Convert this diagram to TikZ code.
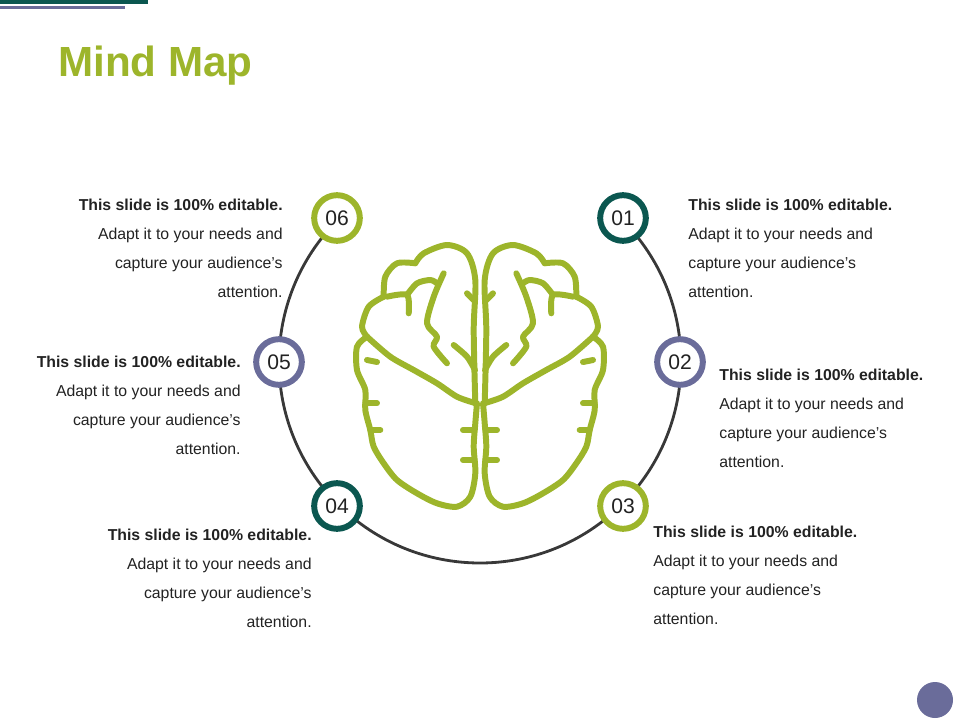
\documentclass[tikz,border=0pt]{standalone}
\usepackage{fontspec}
\setmainfont{Liberation Sans}
\usetikzlibrary{positioning}
\definecolor{mmteal}{RGB}{11,87,80}
\definecolor{mmpurple}{RGB}{106,108,154}
\definecolor{mmgreen}{RGB}{157,181,43}
\definecolor{mmtext}{RGB}{34,34,34}
\newcommand\blurb{\textbf{This slide is 100\% editable.}\\Adapt it to your needs and\\capture your audience's\\attention.}
\begin{document}
\begin{tikzpicture}[x=0.02cm,y=-0.02cm]
    \tikzset{
      ring/.style={circle, draw=#1, line width=3.4pt, fill=white,
        minimum size=26pt, inner sep=0pt, font=\fontsize{12}{12}\selectfont, text=mmtext},
      txtl/.style={anchor=north east, align=right, text=mmtext,
        font=\fontsize{9}{16.4}\selectfont, inner sep=0pt},
      txtr/.style={anchor=north west, align=left, text=mmtext,
        font=\fontsize{9}{16.4}\selectfont, inner sep=0pt},
      brainln/.style={draw=mmgreen, line width=3.4pt, line cap=round, line join=round}
    }
    \useasboundingbox (0,0) rectangle (960,720);

    % header bars and title
    \fill[mmteal] (0,0) rectangle (148,4);
    \fill[mmpurple] (0,6) rectangle (125,9);
    \node[anchor=base west, inner sep=0pt, text=mmgreen,
          font=\fontsize{24}{24}\selectfont\bfseries] (title) at (58,76) {Mind Map};

    % ring arc
    \coordinate (ctr) at (480,362);
    \draw[mmtext!90, line width=1.6pt] (ctr) ++(45:201 and -201) arc[start angle=45, end angle=-225, x radius=201, y radius=-201];

    % brain
    \foreach \s in {1,-1}{
    \begin{scope}[shift={(480,0)}, xscale=\s]
    \begin{scope}[shift={(-3,0)}]
      \draw[brainln] plot[smooth] coordinates {(-1.7,403.3) (-3.3,330) (-1.7,280) (-10,253.3) (-30,245) (-53.3,253.3) (-61.7,263.3)};
      \draw[brainln] plot[smooth] coordinates {(-61.7,263.3) (-80,263.3) (-91.7,276.7) (-93.3,296.7)};
      \draw[brainln] plot[smooth] coordinates {(-93.3,296.7) (-108.3,306.7) (-115,326.7) (-110,336.7)};
      \draw[brainln] plot[smooth] coordinates {(-110,336.7) (-120,346.7) (-120,370) (-111.7,390) (-111.7,410) (-106.7,430) (-103.3,446.7) (-93.3,463.3) (-80,480) (-60,493.3) (-40,503.3) (-20,506.7) (-6.7,496.7) (-1.7,473.3) (-3.3,446.7) (-1.7,423.3) (0,403.3)};
      \draw[brainln] plot[smooth] coordinates {(-110,336.7) (-86.7,356.7) (-63.3,370) (-40,383.3) (-20,396.7) (-2,403)};
      \draw[brainln] plot[smooth] coordinates {(-90,296.7) (-70,295) (-68.3,313.3)};
      \draw[brainln] plot[smooth] coordinates {(-70,295) (-60,283.3) (-46.7,280) (-40,283.3)};
      \draw[brainln] plot[smooth] coordinates {(-33.3,273.3) (-43.3,296.7) (-50,323.3) (-40,336.7) (-43.3,346.7) (-30,363.3)};
      \draw[brainln] plot[smooth] coordinates {(-23.3,345) (-10,356.7) (-2,370)};
      \draw[brainln] (-10,293.3) -- (-3.3,300);
      \draw[brainln] (-14,430) -- (-2.5,430);
      \draw[brainln] (-14,460) -- (-2.5,460);
      \draw[brainln] (-111.7,403.3) -- (-100,403.3);
      \draw[brainln] (-106.7,430) -- (-96.7,430);
      \draw[brainln] (-110,360) -- (-100,362);
    \end{scope}
    \end{scope}}

    % numbered rings
    \node[ring=mmteal]   (n01) at (623,218) {01};
    \node[ring=mmpurple] (n02) at (680,362) {02};
    \node[ring=mmgreen]  (n03) at (623,506) {03};
    \node[ring=mmteal]   (n04) at (337,506) {04};
    \node[ring=mmpurple] (n05) at (279,362) {05};
    \node[ring=mmgreen]  (n06) at (337,218) {06};

    % texts
    \node[txtr] (t01) at (688,199) {\blurb};
    \node[txtr] (t02) at (719,369) {\blurb};
    \node[txtr] (t03) at (653,526) {\blurb};
    \node[txtl] (t04) at (312,529) {\blurb};
    \node[txtl] (t05) at (241,356) {\blurb};
    \node[txtl] (t06) at (283,199) {\blurb};

    \fill[mmpurple] (935,700) circle[radius=18];
\end{tikzpicture}
\end{document}
